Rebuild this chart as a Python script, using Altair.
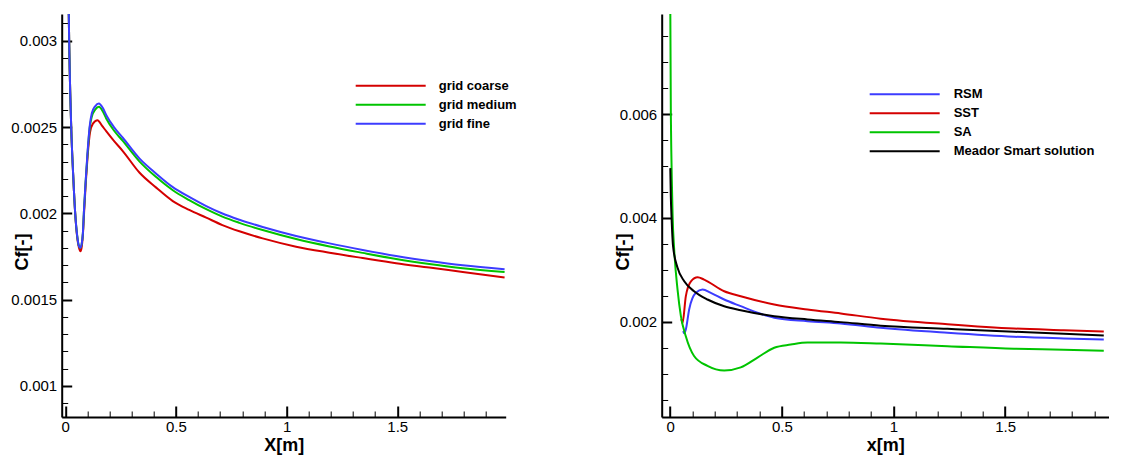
import altair as alt
import pandas as pd

FONT = "Liberation Sans"

left_series = ["grid coarse", "grid medium", "grid fine"]
left_colors = ["#d40000", "#00c400", "#3c3cff"]

lx_fine = [0.008, 0.016, 0.027, 0.036, 0.045, 0.055, 0.062, 0.068, 0.074, 0.080, 0.084, 0.092, 0.100, 0.110,
           0.120, 0.135, 0.152, 0.170, 0.185, 0.220, 0.260, 0.336, 0.411, 0.486, 0.560, 0.637, 0.710, 0.787,
           0.892, 1.043, 1.194, 1.344, 1.495, 1.645, 1.796, 1.985]
ly_fine = [0.00420, 0.00315, 0.00250, 0.00222, 0.00200, 0.00186, 0.00181, 0.00180, 0.00182, 0.00189, 0.00200,
           0.00218, 0.00234, 0.00250, 0.00258, 0.00262, 0.002637, 0.00261, 0.00257, 0.00250, 0.002438, 0.002317,
           0.00223, 0.002152, 0.002095, 0.002042, 0.001999, 0.001963, 0.001921, 0.001869, 0.001826, 0.001788,
           0.001753, 0.001724, 0.001699, 0.001676]
lx_medium = lx_fine
ly_medium = [0.00420, 0.00315, 0.00250, 0.00222, 0.00200, 0.00186, 0.00181, 0.00180, 0.00182, 0.00189, 0.00200,
             0.00218, 0.00233, 0.00249, 0.00256, 0.00260, 0.002617, 0.00259, 0.00255, 0.00248, 0.00242, 0.00230,
             0.00221, 0.002134, 0.002077, 0.002024, 0.001981, 0.001945, 0.001903, 0.001851, 0.001808, 0.001771,
             0.001736, 0.001707, 0.001682, 0.00166]
lx_coarse = [0.008, 0.016, 0.027, 0.036, 0.045, 0.055, 0.062, 0.069, 0.075, 0.080, 0.085, 0.093, 0.101, 0.112,
             0.125, 0.146, 0.165, 0.185, 0.220, 0.260, 0.336, 0.411, 0.486, 0.560, 0.637, 0.710, 0.787, 0.892,
             1.043, 1.194, 1.344, 1.495, 1.645, 1.796, 1.985]
ly_coarse = [0.00420, 0.00315, 0.00250, 0.00222, 0.00200, 0.00185, 0.00180, 0.00178, 0.00181, 0.00188, 0.00200,
             0.00218, 0.00233, 0.00247, 0.00252, 0.00254, 0.00251, 0.002476, 0.00242, 0.002361, 0.002235,
             0.002149, 0.002071, 0.00202, 0.001975, 0.001932, 0.001896, 0.001855, 0.001807, 0.001772, 0.001741,
             0.001711, 0.001686, 0.00166, 0.001628]

left_x_major = [0, 0.5, 1, 1.5]
left_x_minor = [0.1, 0.2, 0.3, 0.4, 0.6, 0.7, 0.8, 0.9, 1.1, 1.2, 1.3, 1.4, 1.6, 1.7, 1.8, 1.9]
left_y_major = [0.001, 0.0015, 0.002, 0.0025, 0.003]
left_y_minor = [0.0009, 0.0011, 0.0012, 0.0013, 0.0014, 0.0016, 0.0017, 0.0018, 0.0019, 0.0021, 0.0022,
                0.0023, 0.0024, 0.0026, 0.0027, 0.0028, 0.0029, 0.0031]

right_series = ["RSM", "SST", "SA", "Meador Smart solution"]
right_colors = ["#3c3cff", "#d40000", "#00c400", "#000000"]

rx_rsm = [0.058, 0.063, 0.070, 0.085, 0.115, 0.145, 0.182, 0.242, 0.316, 0.391, 0.466, 0.615, 0.764, 0.943,
          1.242, 1.540, 1.763, 1.942]
ry_rsm = [0.00182, 0.00178, 0.00185, 0.002237, 0.002558, 0.002621, 0.002558, 0.002429, 0.00230, 0.002173,
          0.002077, 0.002012, 0.001967, 0.001885, 0.001788, 0.001711, 0.001679, 0.00166]
rx_sst = [0.050, 0.055, 0.070, 0.093, 0.123, 0.152, 0.242, 0.316, 0.466, 0.615, 0.764, 0.943, 1.242, 1.540,
          1.763, 1.942]
ry_sst = [0.00205, 0.00197, 0.00249, 0.00278, 0.002858, 0.002813, 0.002588, 0.002492, 0.002333, 0.002237,
          0.00216, 0.00206, 0.001954, 0.001871, 0.001838, 0.001813]
rx_sa = [0.0, 0.003, 0.005, 0.008, 0.011, 0.018, 0.033, 0.048, 0.070, 0.107, 0.167, 0.242, 0.316, 0.391,
         0.466, 0.540, 0.615, 0.764, 0.943, 1.242, 1.540, 1.763, 1.942]
ry_sa = [0.0085, 0.0060, 0.0053, 0.0046, 0.00403, 0.00339, 0.00262, 0.00211, 0.00172, 0.00134, 0.00115,
         0.00106, 0.00112, 0.00131, 0.00150, 0.00156, 0.00160, 0.00160, 0.00158, 0.00153, 0.00148, 0.00146,
         0.00144]
rx_ms = [0.0005, 0.003, 0.006, 0.013, 0.033, 0.063, 0.107, 0.167, 0.242, 0.316, 0.466, 0.615, 0.764, 0.943,
         1.242, 1.540, 1.763, 1.942]
ry_ms = [0.00496, 0.00440, 0.00403, 0.00345, 0.00304, 0.00278, 0.002588, 0.002429, 0.00230, 0.002223,
         0.002108, 0.002044, 0.001993, 0.001925, 0.001865, 0.001808, 0.00177, 0.001737]

right_x_major = [0, 0.5, 1, 1.5]
right_x_minor = left_x_minor
right_y_major = [0.002, 0.004, 0.006]
right_y_minor = [0.0005, 0.001, 0.0015, 0.0025, 0.003, 0.0035, 0.0045, 0.005, 0.0055, 0.0065, 0.007, 0.0075]


def make_df(names, xs, ys):
    rows = []
    for name, xl, yl in zip(names, xs, ys):
        for xv, yv in zip(xl, yl):
            rows.append({"series": name, "x": xv, "y": yv})
    return pd.DataFrame(rows)


def tick_axis(values, orient, size, width):
    # inward tick marks: the axis is pushed inside the plot by its tick length, ticks point back to the edge
    return alt.Axis(values=values, orient=orient, offset=-size, tickSize=size, tickWidth=width,
                    tickColor="black", ticks=True, labels=False, domain=False, grid=False, title=None)


def panel(df, order, colors, xdom, ydom, w, h, xmaj, xmin, ymaj, ymin, yfmt, xtitle, ytitle_x, leg_x, leg_y,
          label_offset, clip_h):
    xscale = alt.Scale(domain=xdom, nice=False, zero=False)
    yscale = alt.Scale(domain=ydom, nice=False, zero=False)
    xaxis = alt.Axis(values=xmaj, orient="bottom", format=".1~f", title=xtitle, ticks=False, grid=False,
                     domainWidth=2, domainColor="black", labelFont=FONT, labelFontSize=15,
                     labelColor="black", labelPadding=3, labelFlush=False, labelOverlap=False,
                     titleFont=FONT, titleFontSize=18, titleFontWeight="bold", titleColor="black",
                     titleBaseline="alphabetic", titleY=34)
    yaxis = alt.Axis(values=ymaj, orient="left", format=yfmt, title="Cf[-]", ticks=False, grid=False,
                     domainWidth=2, domainColor="black", labelFont=FONT, labelFontSize=15,
                     labelColor="black", labelPadding=5, labelFlush=False, labelOverlap=False,
                     titleFont=FONT, titleFontSize=18, titleFontWeight="bold", titleColor="black",
                     titleAngle=270, titleAlign="center", titleBaseline="alphabetic",
                     titleX=ytitle_x, titleY=237.5)
    lines = alt.Chart(df).mark_line(clip=True, strokeWidth=2, interpolate="monotone").encode(
        x=alt.X("x:Q", scale=xscale, axis=xaxis),
        y=alt.Y("y:Q", scale=yscale, axis=yaxis),
        color=alt.Color("series:N", scale=alt.Scale(domain=order, range=colors),
                        legend=alt.Legend(orient="none", legendX=leg_x, legendY=leg_y, title=None,
                                          symbolType="stroke", symbolSize=4900, symbolStrokeWidth=2,
                                          labelFont=FONT, labelFontSize=13, labelFontWeight="bold",
                                          labelColor="black", labelOffset=label_offset, rowPadding=0,
                                          clipHeight=clip_h, padding=0)),
    )
    major = alt.Chart(df).mark_line(opacity=0, clip=True).encode(
        x=alt.X("x:Q", scale=xscale, axis=tick_axis(xmaj, "bottom", 11, 2)),
        y=alt.Y("y:Q", scale=yscale, axis=tick_axis(ymaj, "left", 10, 2)),
    )
    minor = alt.Chart(df).mark_line(opacity=0, clip=True).encode(
        x=alt.X("x:Q", scale=xscale, axis=tick_axis(xmin, "bottom", 6, 1)),
        y=alt.Y("y:Q", scale=yscale, axis=tick_axis(ymin, "left", 6, 1)),
    )
    return alt.layer(lines, major, minor).resolve_axis(x="independent", y="independent").properties(
        width=w, height=h)


left_df = make_df(left_series, [lx_coarse, lx_medium, lx_fine], [ly_coarse, ly_medium, ly_fine])
right_df = make_df(right_series, [rx_rsm, rx_sst, rx_sa, rx_ms], [ry_rsm, ry_sst, ry_sa, ry_ms])

left = panel(left_df, left_series, left_colors, [-0.016, 1.99], [0.00082, 0.003155], 444, 403,
             left_x_major, left_x_minor, left_y_major, left_y_minor, ".4~f", "X[m]", -34.5, 293, 62.5, 12, 18.7)
right = panel(right_df, right_series, right_colors, [-0.038, 1.964], [0.000165, 0.00793], 447, 403,
              right_x_major, right_x_minor, right_y_major, right_y_minor, ".3~f", "x[m]", -33, 207, 70.8, 13, 19)

chart = alt.hconcat(left, right, spacing=97).resolve_scale(
    x="independent", y="independent", color="independent"
).resolve_legend(color="independent").configure_view(stroke=None).properties(
    padding={"left": 10.7, "top": 14, "right": 0, "bottom": 0}, background="white"
)

chart.save("out.html", embed_options={"renderer": "svg", "actions": False})
